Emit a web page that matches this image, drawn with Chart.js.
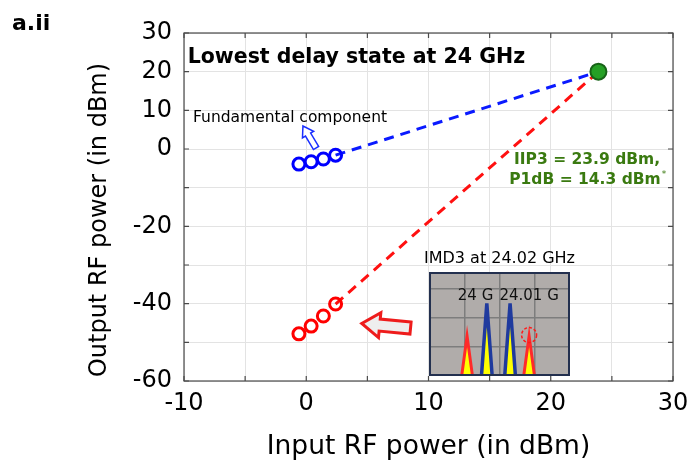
<!DOCTYPE html>
<html>
<head>
<meta charset="utf-8">
<script src="https://cdn.jsdelivr.net/npm/chart.js@4"></script>
<style>
  html, body { margin: 0; padding: 0; background: #fff; }
  #wrap { position: relative; width: 699px; height: 468px; }
  #main { position: absolute; left: 0; top: 0; }
  #inset { position: absolute; left: 429px; top: 272px; }
</style>
</head>
<body>
<div id="wrap">
  <canvas id="main" width="699" height="468"></canvas>
  <canvas id="inset" width="141" height="104"></canvas>
</div>
<script>
// ---- data ----
const fundX = [-0.6, 0.4, 1.4, 2.4];
const fundY = [-3.9, -3.3, -2.6, -1.6];
const imdX  = [-0.6, 0.4, 1.4, 2.4];
const imdY  = [-47.8, -45.8, -43.2, -40.1];
const iip3X = [23.9];
const iip3Y = [20];
const xTickLabels = [-10, 0, 10, 20, 30];
const yTickLabels = [30, 20, 10, 0, -20, -40, -60];
// inset spectrum (schematic units)
const tonePeakX = [1.64, 2.30];
const tonePeakH = [2.5, 2.5];
const imdPeakX  = [1.08, 2.84];
const imdPeakH  = [1.36, 1.36];
const toneLabels = ['24 G', '24.01 G'];
const toneLabelX = [1.32, 2.84];

const FONT = 'DejaVu Sans';
const Y_TITLE = 'Output RF power (in dBm)';

function pts(xs, ys) { return xs.map((x, i) => ({x: x, y: ys[i]})); }

function hollowArrow(ctx, x1, y1, x2, y2, sw, hw, hl, stroke, fill, lw) {
  const dx = x2 - x1, dy = y2 - y1;
  const L = Math.hypot(dx, dy);
  const ux = dx / L, uy = dy / L;
  const nx = -uy, ny = ux;
  const bx = x2 - ux * hl, by = y2 - uy * hl;
  ctx.save();
  ctx.beginPath();
  ctx.moveTo(x1 + nx * sw / 2, y1 + ny * sw / 2);
  ctx.lineTo(bx + nx * sw / 2, by + ny * sw / 2);
  ctx.lineTo(bx + nx * hw / 2, by + ny * hw / 2);
  ctx.lineTo(x2, y2);
  ctx.lineTo(bx - nx * hw / 2, by - ny * hw / 2);
  ctx.lineTo(bx - nx * sw / 2, by - ny * sw / 2);
  ctx.lineTo(x1 - nx * sw / 2, y1 - ny * sw / 2);
  ctx.closePath();
  ctx.fillStyle = fill;
  ctx.fill();
  ctx.lineWidth = lw;
  ctx.strokeStyle = stroke;
  ctx.lineJoin = 'miter';
  ctx.stroke();
  ctx.restore();
}

const decorPlugin = {
  id: 'decor',
  afterDatasetsDraw(chart) {
    const ctx = chart.ctx;
    const xs = chart.scales.x, ys = chart.scales.y;
    const a = chart.chartArea;
    const px = v => xs.getPixelForValue(v);
    const py = v => ys.getPixelForValue(v);
    ctx.save();
    // box
    ctx.strokeStyle = '#4a4a4a';
    ctx.lineWidth = 1.2;
    ctx.strokeRect(a.left, a.top, a.right - a.left, a.bottom - a.top);
    // inner ticks
    ctx.beginPath();
    for (let v = -10; v <= 30; v += 5) {
      const x = px(v);
      ctx.moveTo(x, a.bottom); ctx.lineTo(x, a.bottom - 5);
      ctx.moveTo(x, a.top); ctx.lineTo(x, a.top + 5);
    }
    for (let v = -60; v <= 30; v += 10) {
      const y = py(v);
      ctx.moveTo(a.left, y); ctx.lineTo(a.left + 5, y);
      ctx.moveTo(a.right, y); ctx.lineTo(a.right - 5, y);
    }
    ctx.stroke();

    // texts
    ctx.fillStyle = '#000';
    ctx.textBaseline = 'middle';
    ctx.textAlign = 'left';
    ctx.font = 'bold 20.5px "' + FONT + '"';
    ctx.fillText('Lowest delay state at 24 GHz', px(-9.7), py(23.7));
    ctx.font = '15.5px "' + FONT + '"';
    ctx.fillText('Fundamental component', px(-9.26), py(8.0));
    ctx.font = '16px "' + FONT + '"';
    ctx.fillText('IMD3 at 24.02 GHz', px(9.63), py(-28.4));

    ctx.fillStyle = '#3a7a10';
    ctx.textAlign = 'left';
    ctx.font = 'bold 15.5px "' + FONT + '"';
    ctx.fillText('IIP3 = 23.9 dBm,', px(17.0), py(-2.9));
    ctx.fillText('P1dB = 14.3 dBm', px(16.6), py(-8.1));
    const w = ctx.measureText('P1dB = 14.3 dBm').width;
    ctx.font = '9px "' + FONT + '"';
    ctx.fillText('*', px(16.6) + w + 1, py(-8.1) - 6);

    // arrows
    hollowArrow(ctx, px(0.8), py(0.26), px(-0.27), py(5.95), 6, 13, 10, '#1a2fff', '#ffffff', 1.5);
    hollowArrow(ctx, px(8.53), py(-46.3), px(4.54), py(-45.1), 12, 25, 18, '#ee1c1c', '#eeeeee', 3);
    ctx.restore();
  },
  afterDraw(chart) {
    const ctx = chart.ctx;
    const a = chart.chartArea;
    ctx.save();
    ctx.fillStyle = '#000';
    // panel label
    ctx.font = 'bold 22px "' + FONT + '"';
    ctx.textBaseline = 'middle';
    ctx.textAlign = 'left';
    ctx.fillText('a.ii', 12, 24);
    // y-axis title (real text, rotated)
    ctx.translate(100, (a.top + a.bottom) / 2 + 13);
    ctx.rotate(-Math.PI / 2);
    ctx.textAlign = 'center';
    ctx.font = '24px "' + FONT + '"';
    ctx.fillText(Y_TITLE, 0, 0);
    ctx.restore();
  }
};

new Chart(document.getElementById('main'), {
  type: 'scatter',
  data: {
    datasets: [
      { data: [{x: fundX[fundX.length - 1], y: fundY[fundY.length - 1]}, {x: iip3X[0], y: iip3Y[0]}],
        showLine: true, borderColor: '#0a1aff', borderWidth: 3, borderDash: [10, 7], pointRadius: 0, order: 3 },
      { data: [{x: imdX[imdX.length - 1], y: imdY[imdY.length - 1]}, {x: iip3X[0], y: iip3Y[0]}],
        showLine: true, borderColor: '#ff1010', borderWidth: 3, borderDash: [10, 7], pointRadius: 0, order: 3 },
      { data: pts(fundX, fundY), pointRadius: 6, pointBorderWidth: 3, pointBorderColor: '#0000ff',
        pointBackgroundColor: 'rgba(0,0,0,0)', order: 2 },
      { data: pts(imdX, imdY), pointRadius: 6, pointBorderWidth: 3, pointBorderColor: '#ff0000',
        pointBackgroundColor: 'rgba(0,0,0,0)', order: 2 },
      { data: pts(iip3X, iip3Y), pointRadius: 8, pointBorderWidth: 2, pointBorderColor: '#176317',
        pointBackgroundColor: '#25a025', order: 1 }
    ]
  },
  options: {
    responsive: false,
    animation: false,
    devicePixelRatio: 1,
    layout: { padding: { left: 0, top: 33, right: 26, bottom: 0 } },
    plugins: { legend: { display: false }, tooltip: { enabled: false } },
    scales: {
      x: {
        type: 'linear', min: -10, max: 30,
        afterFit(s) { s.height = 87; },
        ticks: { stepSize: 5, color: '#000', padding: 8, font: { family: FONT, size: 24 },
          callback: v => xTickLabels.includes(v) ? String(v) : '' , maxRotation: 0, autoSkip: false },
        grid: { color: '#e3e3e3', drawTicks: false, lineWidth: 1 },
        border: { display: false },
        title: { display: true, text: 'Input RF power (in dBm)', color: '#000',
          font: { family: FONT, size: 26.5 }, padding: { top: 0, bottom: 5 } }
      },
      y: {
        type: 'linear', min: -60, max: 30,
        afterFit(s) { s.width = 184; },
        ticks: { stepSize: 10, color: '#000', padding: 12, font: { family: FONT, size: 24 },
          callback: v => yTickLabels.includes(v) ? String(v) : '', autoSkip: false },
        grid: { color: '#e3e3e3', drawTicks: false, lineWidth: 1 },
        border: { display: false },
        title: { display: false }
      }
    }
  },
  plugins: [decorPlugin]
});

// ---- inset spectrum ----
function tri(c, h, w) { return [{x: c - w, y: 0}, {x: c, y: h}, {x: c + w, y: 0}]; }
const insetSets = [];
tonePeakX.forEach((c, i) => insetSets.push({ data: tri(c, tonePeakH[i], 0.15), showLine: true, fill: 'origin',
  backgroundColor: '#ffff00', borderColor: '#1f3a9e', borderWidth: 3.5, pointRadius: 0, tension: 0 }));
imdPeakX.forEach((c, i) => insetSets.push({ data: tri(c, imdPeakH[i], 0.15), showLine: true, fill: 'origin',
  backgroundColor: '#ffff00', borderColor: '#ff2a2a', borderWidth: 3, pointRadius: 0, tension: 0 }));

new Chart(document.getElementById('inset'), {
  type: 'scatter',
  data: { datasets: insetSets },
  options: {
    responsive: false, animation: false, devicePixelRatio: 1,
    layout: { padding: 0 },
    plugins: { legend: { display: false }, tooltip: { enabled: false } },
    scales: {
      x: { type: 'linear', min: 0, max: 4, afterFit(s) { s.height = 0; },
        ticks: { display: false, stepSize: 1 }, grid: { color: '#7d7d7d', lineWidth: 1.5, drawTicks: false },
        border: { display: false } },
      y: { type: 'linear', min: -0.03, max: 3.59, afterFit(s) { s.width = 0; },
        ticks: { display: false, stepSize: 1 }, grid: { color: '#7d7d7d', lineWidth: 1.5, drawTicks: false },
        border: { display: false } }
    }
  },
  plugins: [{
    id: 'insetDecor',
    beforeDraw(chart) {
      const ctx = chart.ctx;
      ctx.save();
      ctx.fillStyle = '#b0acaa';
      ctx.fillRect(0, 0, chart.width, chart.height);
      ctx.restore();
    },
    afterDatasetsDraw(chart) {
      const ctx = chart.ctx;
      const xs = chart.scales.x, ys = chart.scales.y;
      ctx.save();
      ctx.fillStyle = '#111';
      ctx.font = '15px "' + FONT + '"';
      ctx.textAlign = 'center';
      ctx.textBaseline = 'middle';
      toneLabels.forEach((t, i) => ctx.fillText(t, xs.getPixelForValue(toneLabelX[i]), ys.getPixelForValue(2.75)));
      // dotted circle round the IMD3 tone
      ctx.strokeStyle = '#ff1a1a';
      ctx.lineWidth = 1.5;
      ctx.setLineDash([3, 2]);
      ctx.beginPath();
      ctx.arc(xs.getPixelForValue(imdPeakX[1]), ys.getPixelForValue(imdPeakH[1]) - 1, 7.5, 0, Math.PI * 2);
      ctx.stroke();
      ctx.setLineDash([]);
      ctx.strokeStyle = '#23304f';
      ctx.lineWidth = 2;
      ctx.strokeRect(1, 1, chart.width - 2, chart.height - 2);
      ctx.restore();
    }
  }]
});
</script>
</body>
</html>
